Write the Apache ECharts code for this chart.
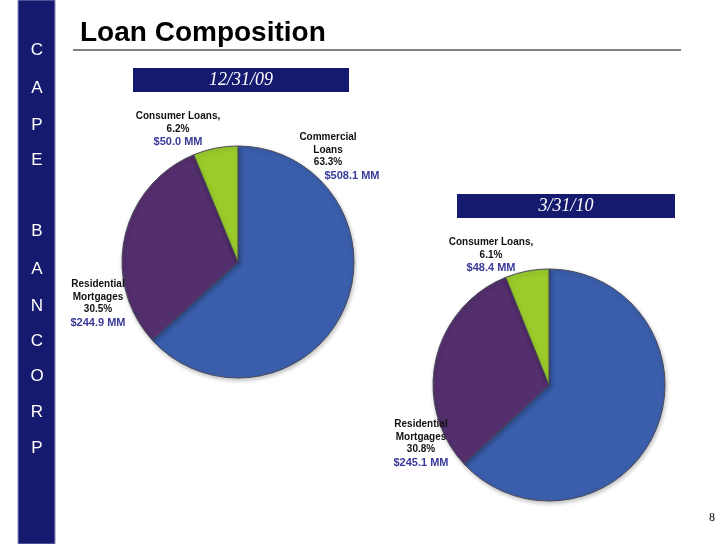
<!DOCTYPE html>
<html>
<head>
<meta charset="utf-8">
<script src="https://cdn.jsdelivr.net/npm/echarts@6/dist/echarts.min.js"></script>
<style>
  html, body { margin: 0; padding: 0; background: #fff; }
  #main { width: 720px; height: 544px; }
</style>
</head>
<body>
<div id="main"></div>
<script>
// data
var categories = ['Commercial Loans', 'Residential Mortgages', 'Consumer Loans'];
var labelNames = ['Commercial\nLoans', 'Residential\nMortgages', 'Consumer Loans,'];
var dates = ['12/31/09', '3/31/10'];
var amounts0931 = [508.1, 244.9, 50.0];   // $MM at 12/31/09
var amounts1003 = [502.2, 245.1, 48.4];   // $MM at 3/31/10
var pct0931 = [63.3, 30.5, 6.2];
var pct1003 = [63.1, 30.8, 6.1];
var sideLetters = ['C', 'A', 'P', 'E', '', 'B', 'A', 'N', 'C', 'O', 'R', 'P'];

var chart = echarts.init(document.getElementById('main'));

var font = '"Liberation Sans", Arial, sans-serif';
var sliceColors = ['#3a5eab', '#532f6d', '#9acb2b'];

// label spots (x, y of top-centre) for each pie
var labelPos = [
  [[328, 131], [98, 278], [178, 110]],
  [[638, 256], [421, 418], [491, 236]]
];

function makeData(vals, pcts) {
  return vals.map(function (v, i) {
    return { name: categories[i], value: v, pct: pcts[i], itemStyle: { color: sliceColors[i] } };
  });
}

function labelText(p) {
  var lines = labelNames[p.dataIndex].split('\n').map(function (s) { return '{n|' + s + '}'; });
  lines.push('{n|' + p.data.pct.toFixed(1) + '%}');
  // the commercial money figure sits a bit to the right in the slide
  lines.push('{' + (p.dataIndex === 0 ? 'vr' : 'v') + '|$' + p.value.toFixed(1) + ' MM}');
  return lines.join('\n');
}

function pieSeries(idx, center, vals, pcts) {
  return {
    type: 'pie',
    center: center,
    radius: 116,
    startAngle: 90,
    clockwise: true,
    silent: true,
    itemStyle: {
      borderColor: '#4a4a5a', borderWidth: 1,
      shadowColor: 'rgba(0,0,0,0.25)', shadowBlur: 4, shadowOffsetX: 1, shadowOffsetY: 2
    },
    label: {
      show: true,
      position: 'outside',
      formatter: labelText,
      align: 'center',
      rich: {
        n: { fontFamily: font, fontWeight: 'bold', fontSize: 10, color: '#111', lineHeight: 12.5, align: 'center' },
        v: { fontFamily: font, fontWeight: 'bold', fontSize: 11, color: '#3a3a9a', lineHeight: 14, align: 'center' },
        vr: { fontFamily: font, fontWeight: 'bold', fontSize: 11, color: '#3a3a9a', lineHeight: 14, align: 'center', padding: [0, 0, 0, 48] }
      }
    },
    labelLine: { show: false },
    labelLayout: function (p) {
      var pos = labelPos[idx][p.dataIndex];
      return { x: pos[0], y: pos[1], align: 'center', verticalAlign: 'top' };
    },
    data: makeData(vals, pcts)
  };
}

var graphics = [
  { type: 'rect', shape: { x: 18, y: 0, width: 37, height: 544 }, style: { fill: '#161a6f', stroke: '#8888bb', lineWidth: 1 } },
  { type: 'line', shape: { x1: 73, y1: 50, x2: 681, y2: 50 }, style: { stroke: '#808080', lineWidth: 2 } },
  { type: 'rect', shape: { x: 133, y: 68, width: 216, height: 24 }, style: { fill: '#161a6f' } },
  { type: 'text', x: 241, y: 80, style: { text: dates[0], fill: '#fff', font: 'italic 18px "Liberation Serif", "Times New Roman", serif', align: 'center', verticalAlign: 'middle' } },
  { type: 'rect', shape: { x: 457, y: 194, width: 218, height: 24 }, style: { fill: '#161a6f' } },
  { type: 'text', x: 566, y: 206, style: { text: dates[1], fill: '#fff', font: 'italic 18px "Liberation Serif", "Times New Roman", serif', align: 'center', verticalAlign: 'middle' } },
  { type: 'text', x: 712, y: 518, style: { text: '8', fill: '#000', font: '12px "Liberation Serif", "Times New Roman", serif', align: 'center', verticalAlign: 'middle' } }
];
var letterY = [50, 88, 125, 160, 0, 231, 269, 306, 341, 376, 412, 448];
sideLetters.forEach(function (ch, i) {
  if (!ch) return;
  graphics.push({ type: 'text', x: 37, y: letterY[i], style: { text: ch, fill: '#fff', font: '17px "Liberation Sans", Arial, sans-serif', align: 'center', verticalAlign: 'middle' } });
});

chart.setOption({
  animation: false,
  title: {
    text: 'Loan Composition',
    left: 75, top: 14,
    textStyle: { fontFamily: '"Liberation Sans", Arial, sans-serif', fontWeight: 'bold', fontSize: 28, color: '#000' }
  },
  graphic: graphics,
  series: [
    pieSeries(0, [238, 262], amounts0931, pct0931),
    pieSeries(1, [549, 385], amounts1003, pct1003)
  ]
});
</script>
</body>
</html>
